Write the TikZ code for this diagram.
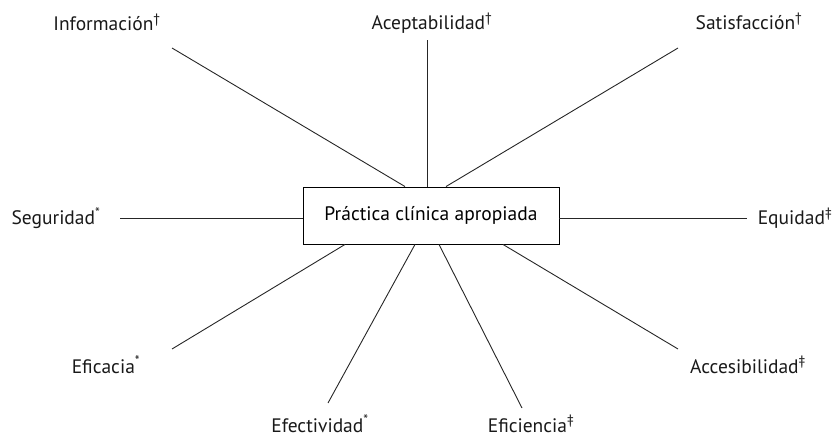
\documentclass[tikz,border=0pt]{standalone}
\usepackage{fontspec}
\setmainfont{PT Sans}

\def\labelSize{\fontsize{19.5}{23}\selectfont}
\def\centreWidth{256}
\def\centreHeight{57}

\tikzset{
    centrebox/.style = {draw, line width = 0.9pt, minimum width = \centreWidth pt,
        minimum height = \centreHeight pt, inner sep = 0pt,
        font = \labelSize, text = black},
    factor/.style = {anchor = base, inner sep = 0pt, font = \labelSize, text = black!90},
    spoke/.style = {line width = 0.9pt, black!85},
}

\begin{document}
\begin{tikzpicture}[x = 1pt, y = -1pt]
    \useasboundingbox (0,0) rectangle (838,438);
    \node [centrebox] (practica) at (431,215.5) {Práctica clínica apropiada};
    %% factors
    \node [factor] (informacion)   at (107,31)  {Información\textsuperscript{\dag}};
    \node [factor] (aceptabilidad) at (432,30)  {Aceptabilidad\textsuperscript{\dag}};
    \node [factor] (satisfaccion)  at (749,30)  {Satisfacción\textsuperscript{\dag}};
    \node [factor] (seguridad)     at (56,225)  {Seguridad\textsuperscript{*}};
    \node [factor] (equidad)       at (795,225) {Equidad\textsuperscript{\ddag}};
    \node [factor] (eficacia)      at (106,373) {Eficacia\textsuperscript{*}};
    \node [factor] (efectividad)   at (320,432) {Efectividad\textsuperscript{*}};
    \node [factor] (eficiencia)    at (531,432) {Eficiencia\textsuperscript{\ddag}};
    \node [factor] (accesibilidad) at (748,373) {Accesibilidad\textsuperscript{\ddag}};
    %% free ends of the spokes
    \coordinate (informacionEnd)   at (172,48);
    \coordinate (aceptabilidadEnd) at (427,40);
    \coordinate (satisfaccionEnd)  at (678,48);
    \coordinate (seguridadEnd)     at (120,218);
    \coordinate (equidadEnd)       at (747,218);
    \coordinate (eficaciaEnd)      at (172,349);
    \coordinate (efectividadEnd)   at (328,403);
    \coordinate (eficienciaEnd)    at (522,408);
    \coordinate (accesibilidadEnd) at (678,349);
    %% spokes
    \draw [spoke] (practica.north) ++(-26,0) -- (informacionEnd);
    \draw [spoke] (practica.north) ++(-4,0)  -- (aceptabilidadEnd);
    \draw [spoke] (practica.north) ++(15,0)  -- (satisfaccionEnd);
    \draw [spoke] (practica.west |- seguridadEnd) -- (seguridadEnd);
    \draw [spoke] (practica.east |- equidadEnd) -- (equidadEnd);
    \draw [spoke] (practica.south) ++(-86,0) -- (eficaciaEnd);
    \draw [spoke] (practica.south) ++(-16,0) -- (efectividadEnd);
    \draw [spoke] (practica.south) ++(8,0)   -- (eficienciaEnd);
    \draw [spoke] (practica.south) ++(72,0)  -- (accesibilidadEnd);
\end{tikzpicture}
\end{document}
